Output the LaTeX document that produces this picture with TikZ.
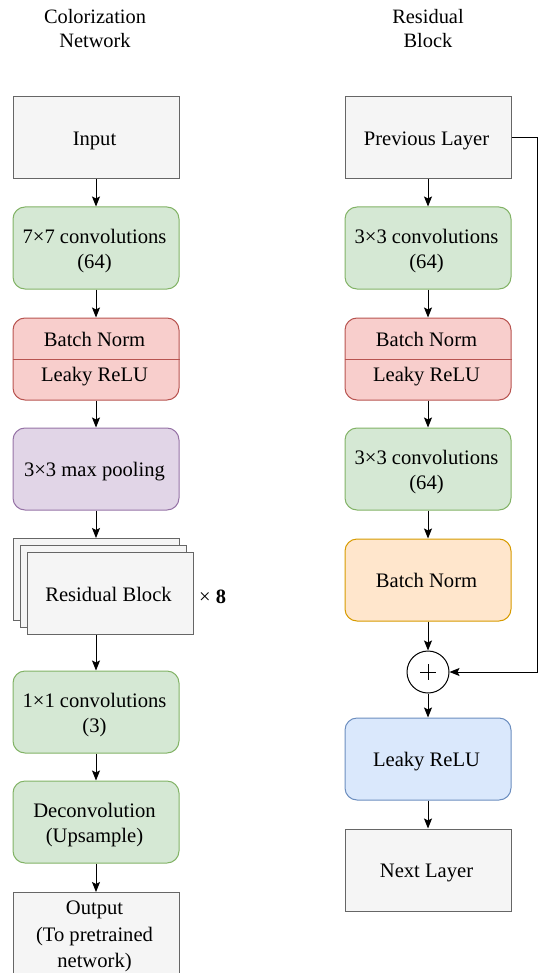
\documentclass[tikz,border=0pt]{standalone}
\usepackage{fontspec}
\setmainfont{Liberation Serif}
\usetikzlibrary{arrows.meta,calc}
\definecolor{grayF}{HTML}{F5F5F5}\definecolor{grayD}{HTML}{666666}
\definecolor{grnF}{HTML}{D5E8D4}\definecolor{grnD}{HTML}{82B366}
\definecolor{redF}{HTML}{F8CECC}\definecolor{redD}{HTML}{B85450}
\definecolor{purF}{HTML}{E1D5E7}\definecolor{purD}{HTML}{9673A6}
\definecolor{orgF}{HTML}{FFE6CC}\definecolor{orgD}{HTML}{D79B00}
\definecolor{bluF}{HTML}{DAE8FC}\definecolor{bluD}{HTML}{6C8EBF}
\tikzset{
  basebox/.style={draw, line width=1pt, minimum width=166pt, minimum height=82pt, inner sep=0pt},
  graybox/.style={basebox, fill=grayF, draw=grayD},
  greenbox/.style={basebox, fill=grnF, draw=grnD, rounded corners=12pt},
  redbox/.style={basebox, fill=redF, draw=redD, rounded corners=12pt},
  purplebox/.style={basebox, fill=purF, draw=purD, rounded corners=12pt},
  orangebox/.style={basebox, fill=orgF, draw=orgD, rounded corners=12pt},
  bluebox/.style={basebox, fill=bluF, draw=bluD, rounded corners=12pt},
  boxtext/.style={label={[inner sep=0pt, align=center, font=\fontsize{20.6}{25}\selectfont, execute at begin node=\vphantom{Ap}, xshift=-1.5pt, yshift=-3pt]center:{#1}}},
  txt/.style={inner sep=0pt, align=center, font=\fontsize{20.4}{24}\selectfont},
  conn/.style={line width=1pt, -{Stealth[length=10pt,width=8pt,inset=2pt]}},
}
\begin{document}
\begin{tikzpicture}[x=1pt,y=-1pt]
\useasboundingbox (0,0) rectangle (538,973);
% titles
\node[txt] (t1) at (95,29) {Colorization\\Network};
\node[txt] (t2) at (428,29) {Residual\\Block};
% left column
\node[graybox, boxtext={Input}] (input) at (96,138) {};
\node[greenbox, boxtext={7×7 convolutions\\(64)}] (c7) at (96,248) {};
\node[redbox] (bnl) at (96,359) {};
\draw[draw=redD, line width=1pt] (bnl.west) -- (bnl.east);
\node[txt, font=\fontsize{20.6}{25}\selectfont] (bnlt1) at (94.5,339) {Batch Norm};
\node[txt, font=\fontsize{20.6}{25}\selectfont] (bnlt2) at (94.5,377) {Leaky ReLU};
\node[purplebox, boxtext={3×3 max pooling}] (pool) at (96,469) {};
\node[graybox] (rb1) at (96,579.5) {};
\node[graybox] (rb2) at (103,586.5) {};
\node[graybox, boxtext={Residual Block}] (rb3) at (110,593.5) {};
\node[txt, anchor=west] (times) at (199,597) {× \textbf{8}};
\node[greenbox, boxtext={1×1 convolutions\\(3)}] (c1) at (96,712) {};
\node[greenbox, boxtext={Deconvolution\\(Upsample)}] (dec) at (96,822) {};
\node[graybox, anchor=north] (out) at (96,892) {};
\node[inner sep=0pt, align=center, font=\fontsize{20.6}{26.3}\selectfont, anchor=north] (outt) at (94.5,901) {Output\\(To pretrained\\network)};
\draw[conn] (input) -- (c7);
\draw[conn] (c7) -- (bnl);
\draw[conn] (bnl) -- (pool);
\draw[conn] (pool) -- (rb1);
\draw[conn] (rb3.south -| c1.north) -- (c1.north);
\draw[conn] (c1) -- (dec);
\draw[conn] (dec) -- (out);
% right column
\node[graybox, boxtext={Previous Layer}] (prev) at (428,138) {};
\node[greenbox, boxtext={3×3 convolutions\\(64)}] (rc1) at (428,248) {};
\node[redbox] (rbnl) at (428,359) {};
\draw[draw=redD, line width=1pt] (rbnl.west) -- (rbnl.east);
\node[txt, font=\fontsize{20.6}{25}\selectfont] (rbnlt1) at (426.5,339) {Batch Norm};
\node[txt, font=\fontsize{20.6}{25}\selectfont] (rbnlt2) at (426.5,377) {Leaky ReLU};
\node[greenbox, boxtext={3×3 convolutions\\(64)}] (rc2) at (428,469) {};
\node[orangebox, boxtext={Batch Norm}] (rbn) at (428,580) {};
\node[draw, circle, line width=1pt, fill=white, minimum size=42pt, inner sep=0pt] (plus) at (428,672) {};
\draw[line width=1pt] ($(plus.center)+(-8,0)$) -- ($(plus.center)+(8,0)$);
\draw[line width=1pt] ($(plus.center)+(0,-8)$) -- ($(plus.center)+(0,8)$);
\node[bluebox, boxtext={Leaky ReLU}] (leaky) at (428,759) {};
\node[graybox, boxtext={Next Layer}] (next) at (428,870) {};
\draw[conn] (prev) -- (rc1);
\draw[conn] (rc1) -- (rbnl);
\draw[conn] (rbnl) -- (rc2);
\draw[conn] (rc2) -- (rbn);
\draw[conn] (rbn) -- (plus);
\draw[conn] (plus) -- (leaky);
\draw[conn] (leaky) -- (next);
\coordinate (skip) at (537,138);
\draw[conn] (prev.east) -- (skip) |- (plus.east);
\end{tikzpicture}
\end{document}
